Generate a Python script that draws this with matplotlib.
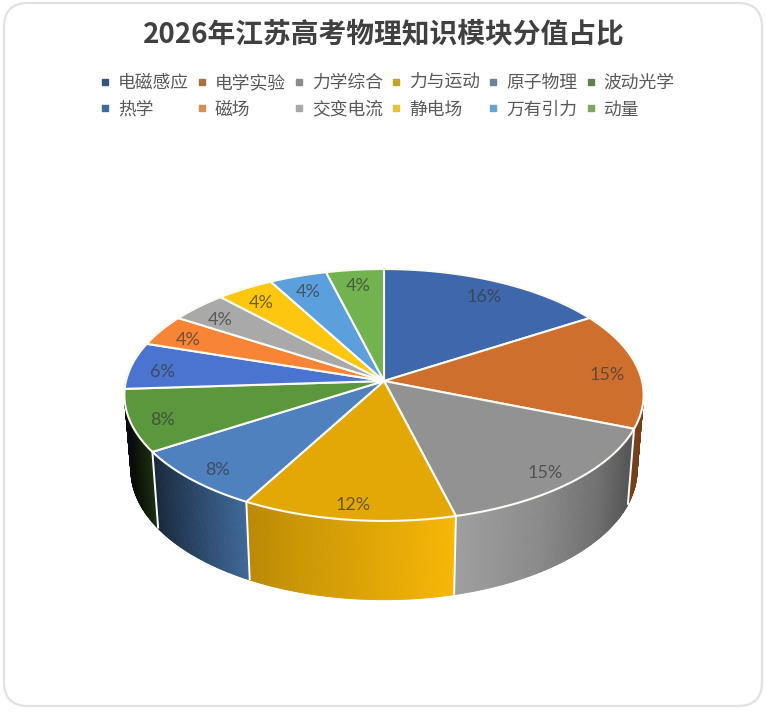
import numpy as np
import matplotlib
matplotlib.use('Agg')
import matplotlib.pyplot as plt
from matplotlib.patches import Polygon, FancyBboxPatch
from matplotlib.collections import PolyCollection
from matplotlib.lines import Line2D
from matplotlib.colors import to_rgb

plt.rcParams['font.family'] = ['Noto Sans CJK SC', 'DejaVu Sans']

title = '2026年江苏高考物理知识模块分值占比'
categories = ['电磁感应', '电学实验', '力学综合', '力与运动', '原子物理', '波动光学',
              '热学', '磁场', '交变电流', '静电场', '万有引力', '动量']
values = [16, 15, 15, 12, 8, 8, 6, 4, 4, 4, 4, 4]
top_colors = ['#3f68ac', '#cf6f2d', '#929292', '#e3a806', '#4e81bd', '#5b973c',
              '#4a74cf', '#f88436', '#a9a9a9', '#fdc60f', '#5b9fdc', '#72b350']
legend_colors = ['#34557f', '#a9713f', '#8c8c8c', '#c4a326', '#6a829c', '#5d8250',
                 '#3f6aa0', '#d68f58', '#a9a9a9', '#e8c23a', '#6aa3cf', '#7aa860']

# projection of the tilted disc into pixel space
APEX_X, APEX_Y = 384.0, 381.0
A, B, C = 258.0, 124.4, 0.111
ELL_CY = 395.0
BASE_CY, BASE_SX, BASE_SY = 470.0, 0.975, 1.03
SHADE_X = [120, 130, 150, 200, 247, 300, 384, 455, 540, 600, 630, 645]
SHADE_F = [0.08, 0.10, 0.30, 0.58, 0.82, 0.90, 1.00, 1.09, 0.95, 0.76, 0.60, 0.55]


def top_xy(theta_deg, r=1.0):
    t = np.radians(theta_deg)
    u, v = r * np.sin(t), r * np.cos(t)
    w = 1 + C * v
    return APEX_X + A * u / w, APEX_Y - B * v / w


def base_xy(theta_deg):
    x, y = top_xy(theta_deg)
    return APEX_X + (x - APEX_X) * BASE_SX, BASE_CY + (y - ELL_CY) * BASE_SY


fig = plt.figure(figsize=(7.66, 7.12), dpi=100, facecolor='white')
ax = fig.add_axes([0, 0, 1, 1])
ax.set_xlim(0, 766)
ax.set_ylim(712, 0)
ax.axis('off')

ax.add_patch(FancyBboxPatch((4, 3), 758, 703, boxstyle='round,pad=0,rounding_size=24',
                            fc='white', ec='#e2e2e2', lw=1.6, zorder=0))

total = sum(values)
edges = np.concatenate([[0], np.cumsum(values)]) * 360.0 / total

# side wall
quads, quad_cols = [], []
for i, val in enumerate(values):
    lo, hi = max(edges[i], 88), min(edges[i + 1], 272)
    if hi <= lo:
        continue
    ts = np.linspace(lo, hi, max(2, int((hi - lo) * 2) + 1))
    for a, b in zip(ts[:-1], ts[1:]):
        p1, p2, p3, p4 = top_xy(a), top_xy(b), base_xy(b), base_xy(a)
        xm = (p1[0] + p2[0]) / 2
        f = np.interp(xm, SHADE_X, SHADE_F)
        quads.append([p1, p2, p3, p4])
        quad_cols.append(tuple(np.clip(np.array(to_rgb(top_colors[i])) * f, 0, 1)))
ax.add_collection(PolyCollection(quads, facecolors=quad_cols, edgecolors=quad_cols,
                                 linewidths=0.6, zorder=2))

for th in edges[1:-1]:
    if 95 < th < 262:
        xs, ys = zip(top_xy(th), base_xy(th))
        ax.plot(xs, ys, color='white', lw=1.4, zorder=3, solid_capstyle='butt')

# top face
for i, val in enumerate(values):
    ts = np.linspace(edges[i], edges[i + 1], 80)
    px, py = top_xy(ts)
    pts = np.column_stack([np.r_[APEX_X, px], np.r_[APEX_Y, py]])
    ax.add_patch(Polygon(pts, closed=True, fc=top_colors[i], ec='#fbfbf4', lw=1.5,
                         joinstyle='round', zorder=4))

# data labels
for i, val in enumerate(values):
    x, y = top_xy((edges[i] + edges[i + 1]) / 2, 0.875)
    ax.text(x, y + 4, f'{val}%', ha='center', va='center', fontsize=13,
            family=['Lato', 'DejaVu Sans'], color='#3a3a3a', alpha=0.72, zorder=5)

fig.text(384 / 766, 1 - 34 / 712, title, ha='center', va='center', fontsize=20,
         fontweight='bold', color='#404040')

# matplotlib fills legends column by column: reorder so the rows read as in the chart
n_col = 6
handles = [Line2D([], [], ls='', marker='s', ms=4.6, mfc=c, mec=c) for c in legend_colors]
order = [j + n_col * k for j in range(n_col) for k in range(2)]
fig.legend([handles[j] for j in order], [categories[j] for j in order], ncol=n_col,
           loc='upper left', bbox_to_anchor=(99.5 / 766, 1 - 74 / 712), borderpad=0,
           borderaxespad=0, frameon=False, fontsize=12.8, labelcolor='#595959',
           handlelength=0.6, handletextpad=0.43, columnspacing=0.44, labelspacing=0.49)

fig.savefig('out.png', dpi=100, facecolor='white')
